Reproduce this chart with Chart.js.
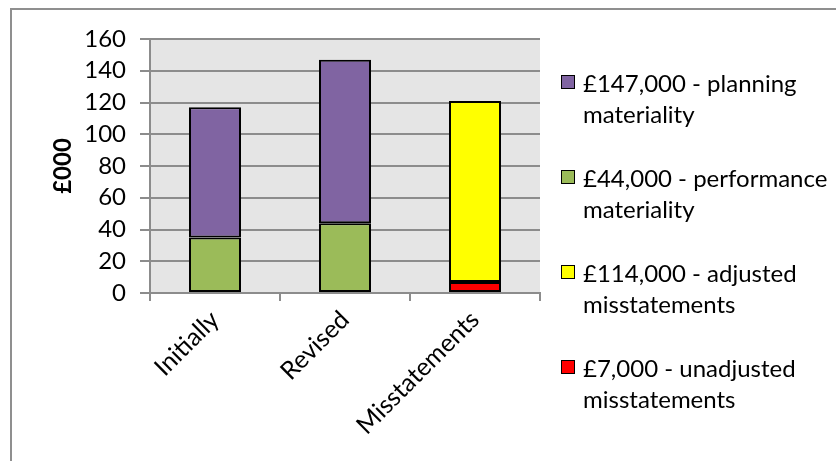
<!DOCTYPE html>
<html>
<head>
<meta charset="utf-8">
<script src="https://cdn.jsdelivr.net/npm/chart.js@4.4.1/dist/chart.umd.min.js"></script>
<style>
  html, body { margin: 0; padding: 0; background: #fff; overflow: hidden; }
  #wrap { position: relative; width: 836px; height: 461px; }
  #frame { position: absolute; left: 10px; top: 8px; width: 900px; height: 520px;
           border: 2px solid #8f8f8f; pointer-events: none; }
  #legend { position: absolute; left: 561px; top: 67px; font-family: Lato, sans-serif;
            font-size: 24px; line-height: 31px; color: #000; white-space: nowrap; }
  .item { position: relative; padding-left: 22px; margin-bottom: 33px; }
  .box { position: absolute; left: 0; top: 8px; width: 12px; height: 12px; border: 1px solid #000; }
</style>
</head>
<body>
<div id="wrap">
  <canvas id="chart" width="836" height="461"></canvas>
  <div id="frame"></div>
  <div id="legend"></div>
</div>
<script>
// Chart data
const categories = ['Initially', 'Revised', 'Misstatements'];
const performanceValues = [35, 44, null];
const planningValues = [82, 103, null];
const unadjustedValues = [null, null, 7];
const adjustedValues = [null, null, 114];
const yMin = 0, yMax = 160, yStep = 20;

const legendLabels = [
    '£147,000 - planning materiality',
    '£44,000 - performance materiality',
    '£114,000 - adjusted misstatements',
    '£7,000 - unadjusted misstatements'
];
const legendColors = ['#8064A2', '#9BBB59', '#FFFF00', '#FF0000'];

const gridGrey = '#8c8c8c';
const font = { family: 'Lato', size: 24 };

// Grey plot area background
const plotBg = {
    id: 'plotBg',
    beforeDraw(chart) {
        const a = chart.chartArea;
        chart.ctx.save();
        chart.ctx.fillStyle = '#e5e5e5';
        chart.ctx.fillRect(a.left, a.top, a.right - a.left, a.bottom - a.top);
        chart.ctx.restore();
    }
};

function barSet(label, data, color) {
    return {
        label: label,
        data: data,
        backgroundColor: color,
        borderColor: '#000',
        borderWidth: 2,
        borderSkipped: false,
        categoryPercentage: 1,
        barPercentage: 0.4
    };
}

let ctx = document.getElementById('chart').getContext('2d');
let chart = new Chart(ctx, {
    type: 'bar',
    data: {
        labels: categories,
        datasets: [
            barSet(legendLabels[1], performanceValues, legendColors[1]),
            barSet(legendLabels[0], planningValues, legendColors[0]),
            barSet(legendLabels[3], unadjustedValues, legendColors[3]),
            barSet(legendLabels[2], adjustedValues, legendColors[2])
        ]
    },
    options: {
        responsive: false,
        animation: false,
        layout: { padding: { left: 0, top: 39, right: 296, bottom: 0 } },
        plugins: { legend: { display: false }, tooltip: { enabled: false } },
        scales: {
            x: {
                stacked: true,
                grid: { drawOnChartArea: false, color: gridGrey, lineWidth: 2, tickLength: 8 },
                border: { color: gridGrey, width: 2 },
                ticks: { font: { family: 'Lato', size: 25 }, color: '#000', maxRotation: 45, minRotation: 45, padding: 4 },
                afterFit(scale) { scale.height = 168; }
            },
            y: {
                stacked: true,
                min: yMin,
                max: yMax,
                grid: { color: gridGrey, lineWidth: 2, tickLength: 10 },
                border: { color: gridGrey, width: 2 },
                ticks: { font: font, color: '#000', stepSize: yStep, padding: 14, autoSkip: false },
                title: {
                    display: true, text: '£000', color: '#000',
                    font: { family: 'Lato', size: 24, weight: 'bold' },
                    padding: { top: 49, bottom: 0 }
                },
                afterFit(scale) { scale.width = 150; }
            }
        }
    },
    plugins: [plotBg]
});

// Legend as html text, each label wrapped before its last word
const legendEl = document.getElementById('legend');
legendLabels.forEach((text, i) => {
    const item = document.createElement('div');
    item.className = 'item';
    item.innerHTML = '<span class="box" style="background:' + legendColors[i] + '"></span>' +
        text.replace(/ (\S+)$/, '<br>$1');
    legendEl.appendChild(item);
});
</script>
</body>
</html>
